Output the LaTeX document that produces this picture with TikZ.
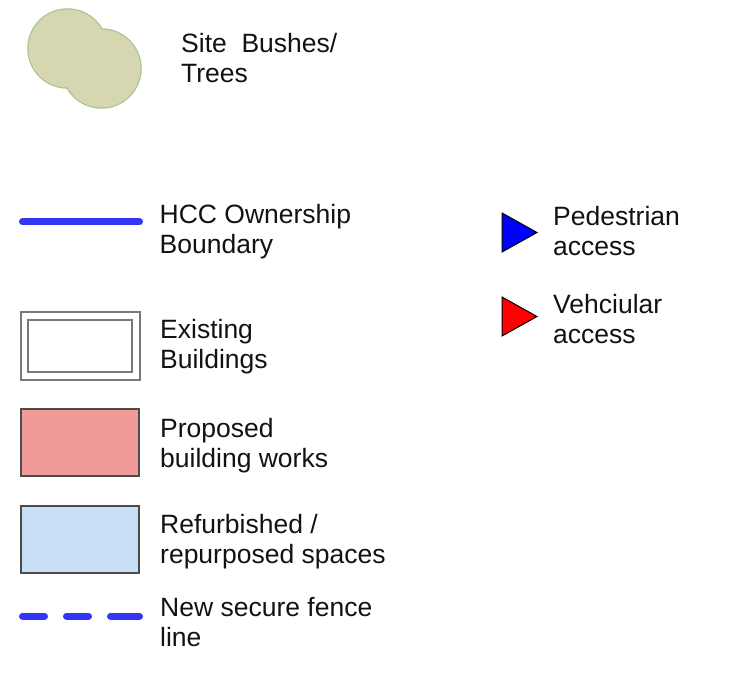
\documentclass[tikz,border=0pt]{standalone}
\usepackage{fontspec}
\setmainfont{Liberation Sans}
\begin{document}
\begin{tikzpicture}[x=1pt,y=-1pt,
  lbl/.style={anchor=base west,inner sep=0pt,align=left,font=\fontsize{26.5}{30}\selectfont,text=black!93},
  bush/.style={fill=bushfill,draw=none},
  bushedge/.style={draw=bushline,line width=2.5pt},
  bldg/.style={draw=gray!95!black,line width=2.2pt},
  newbox/.style={draw=black!70,line width=2.2pt},
  tri/.style={draw=black,line width=1pt,line join=miter}]
\definecolor{bushfill}{HTML}{D6D7B1}
\definecolor{bushline}{HTML}{A8C492}
\definecolor{hccblue}{HTML}{3535F5}
\definecolor{propred}{HTML}{F09A9A}
\definecolor{refblue}{HTML}{C9DFF5}
\useasboundingbox (0,0) rectangle (731,679);
% bushes
\draw[bushedge] (67.5,48.5) circle (39);
\draw[bushedge] (101.5,68.5) circle (39);
\fill[bush] (67.5,48.5) circle (39);
\fill[bush] (101.5,68.5) circle (39);
\node[lbl] (tbush) at (181,83) {Site\ \ Bushes/\\Trees};
% HCC boundary
\coordinate (h1) at (22.5,222);
\coordinate (h2) at (139.5,222);
\draw[hccblue,line width=7pt,line cap=round] (h1) -- (h2);
\node[lbl] (thcc) at (159.5,254) {HCC Ownership\\Boundary};
% existing buildings
\draw[bldg] (21,312) rectangle (140,380);
\draw[bldg] (28,320) rectangle (132,372);
\node[lbl] (texist) at (160,368) {Existing\\Buildings};
% proposed
\draw[newbox,fill=propred] (21,409) rectangle (139,476);
\node[lbl] (tprop) at (160,467) {Proposed\\building works};
% refurbished
\draw[newbox,fill=refblue] (21,506) rectangle (139,573);
\node[lbl] (tref) at (160,563) {Refurbished /\\repurposed spaces};
% fence
\coordinate (f1) at (22.5,616);
\coordinate (f2) at (139.5,616);
\draw[hccblue,line width=7pt,line cap=round,dash pattern=on 22pt off 22pt on 22pt off 22pt on 29pt] (f1) -- (f2);
\node[lbl] (tfence) at (160,646) {New secure fence\\line};
% triangles
\draw[tri,fill=blue] (502,213) -- (537,232.5) -- (502,252) -- cycle;
\node[lbl] (tped) at (553,255) {Pedestrian\\access};
\draw[tri,fill=red] (502,297) -- (537,316.5) -- (502,336) -- cycle;
\node[lbl] (tveh) at (553,343) {Vehciular\\access};
\end{tikzpicture}
\end{document}
